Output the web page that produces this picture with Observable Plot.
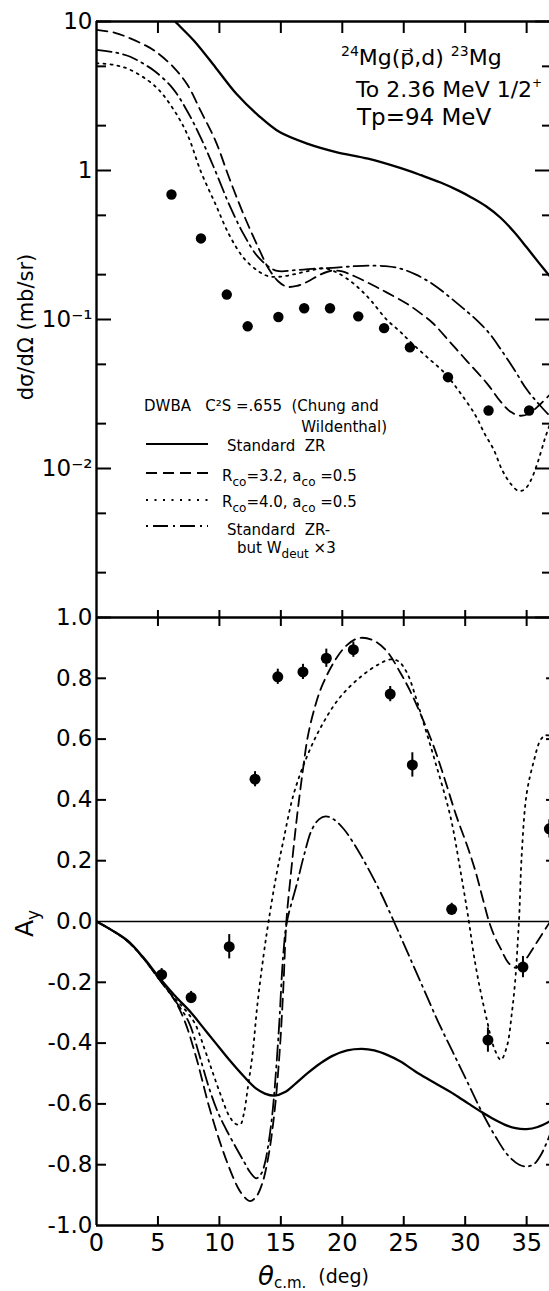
<!DOCTYPE html>
<html>
<head>
<meta charset="utf-8">
<script src="https://cdn.jsdelivr.net/npm/d3@7"></script>
<script src="https://cdn.jsdelivr.net/npm/@observablehq/plot@0.6"></script>
<style>
  html, body { margin: 0; padding: 0; background: #fff; }
  #fig { position: relative; width: 549px; height: 1291px; overflow: hidden; background: #fff; }
  #fig svg { position: absolute; left: 0; overflow: visible; }
</style>
</head>
<body>
<div id="fig"></div>
<script>
// 24Mg(p,d)23Mg to the 2.36 MeV 1/2+ state at Tp = 94 MeV:
// cross section (top, log scale) and analyzing power Ay (bottom).

const FONT = "DejaVu Sans, sans-serif";
const thetaMax = 36.86;                       // angular range visible in the frame (deg)
const xTicks = [5, 10, 15, 20, 25, 30, 35];
const xLabels = [0, 5, 10, 15, 20, 25, 30, 35];

// ---- cross section axis
const sigMajor = [10, 1, 0.1, 0.01, 0.001];
const sigMinor = [5, 2, 0.5, 0.2, 0.05, 0.02, 0.005, 0.002];
const sigLabels = [10, 1, 0.1, 0.01];
const sigLabelText = ["10", "1", "10⁻¹", "10⁻²"];

// ---- analyzing power axis
const ayLabels = [1, 0.8, 0.6, 0.4, 0.2, 0, -0.2, -0.4, -0.6, -0.8, -1];
const ayTicks = [0.8, 0.6, 0.4, 0.2, -0.2, -0.4, -0.6, -0.8];

// ---- measured cross section (mb/sr)
const sigmaTheta = [6.1, 8.5, 10.6, 12.3, 14.8, 16.9, 19.0, 21.3, 23.4, 25.5, 28.6, 31.9, 35.2];
const sigmaValue = [0.69, 0.35, 0.147, 0.090, 0.104, 0.119, 0.119, 0.105, 0.0875, 0.065, 0.041, 0.0245, 0.0245];

// ---- measured analyzing power
const ayTheta = [5.3, 7.7, 10.8, 12.9, 14.75, 16.8, 18.7, 20.9, 23.9, 25.7, 28.9, 31.85, 34.7, 36.85];
const ayValue = [-0.175, -0.25, -0.083, 0.468, 0.805, 0.821, 0.866, 0.894, 0.748, 0.515, 0.04, -0.39, -0.15, 0.305];
const ayError = [0.02, 0.02, 0.04, 0.025, 0.025, 0.025, 0.03, 0.025, 0.025, 0.04, 0.02, 0.04, 0.035, 0.03];

// ---- DWBA cross sections [theta, mb/sr]
const sigStdZR = [[5.2, 12.8], [6.4, 10.0], [7.95, 7.4], [9.7, 4.9], [11.4, 3.26], [13.2, 2.33], [14.9, 1.81],
  [17.2, 1.51], [19.5, 1.33], [22.1, 1.2], [24.7, 1.04], [26.4, 0.93], [28.0, 0.83], [29.5, 0.73], [30.5, 0.66],
  [31.7, 0.575], [32.9, 0.48], [34.0, 0.385], [35.0, 0.305], [36.0, 0.24], [37.0, 0.19]];
const sigRco32 = [[0, 8.8], [1.5, 8.4], [2.75, 7.7], [4.0, 6.9], [4.8, 6.3], [6.2, 5.0], [7.4, 3.76], [8.5, 2.49],
  [9.7, 1.57], [10.8, 0.89], [12.0, 0.50], [13.2, 0.30], [14.0, 0.22], [14.8, 0.18], [15.5, 0.166], [16.3, 0.168],
  [17.2, 0.18], [18.2, 0.2], [19.2, 0.213], [20.0, 0.21], [21.0, 0.195], [22.3, 0.173], [23.6, 0.152], [25.3, 0.127],
  [26.5, 0.108], [27.4, 0.094], [28.8, 0.07], [30.2, 0.052], [31.8, 0.037], [32.9, 0.028], [33.7, 0.024],
  [34.5, 0.0226], [35.2, 0.0234], [36.1, 0.027], [37.0, 0.032]];
const sigRco40 = [[0, 5.25], [1.5, 5.1], [2.75, 4.74], [4.8, 3.66], [6.2, 2.62], [7.4, 1.74], [8.5, 0.98], [9.7, 0.59],
  [10.8, 0.37], [12.0, 0.257], [13.2, 0.21], [14.0, 0.195], [15.0, 0.194], [16.3, 0.203], [17.5, 0.214], [18.6, 0.22],
  [19.5, 0.208], [20.7, 0.18], [21.6, 0.155], [22.4, 0.132], [23.6, 0.1], [24.7, 0.083], [25.6, 0.07], [27.0, 0.055],
  [28.3, 0.044], [29.5, 0.033], [30.8, 0.023], [31.6, 0.017], [32.3, 0.0135], [33.0, 0.0098], [33.7, 0.0079],
  [34.3, 0.0071], [34.8, 0.0072], [35.3, 0.0082], [35.9, 0.011], [36.5, 0.016], [37.0, 0.021]];
const sigWdeut = [[0, 6.45], [1.5, 6.2], [2.75, 5.8], [4.0, 5.1], [4.8, 4.6], [6.2, 3.56], [7.4, 2.49], [8.5, 1.65],
  [9.7, 0.98], [10.8, 0.59], [12.0, 0.37], [13.2, 0.26], [14.6, 0.213], [16.3, 0.215], [18.0, 0.22], [19.5, 0.223],
  [21.0, 0.228], [22.1, 0.23], [23.5, 0.228], [24.7, 0.22], [26.0, 0.2], [27.4, 0.172], [28.8, 0.14], [30.2, 0.112],
  [31.0, 0.098], [32.0, 0.08], [32.9, 0.063], [34.0, 0.046], [35.0, 0.034], [36.0, 0.027], [37.0, 0.022]];

// ---- DWBA analyzing powers [theta, Ay]
const ayStdZR = [[0, 0], [1.3, -0.03], [2.56, -0.064], [3.8, -0.118], [5.1, -0.184], [6.4, -0.245], [7.7, -0.3],
  [8.7, -0.35], [9.7, -0.4], [10.8, -0.455], [12.0, -0.51], [13.0, -0.55], [13.7, -0.566], [14.5, -0.573],
  [15.3, -0.562], [16.2, -0.533], [17.2, -0.498], [18.2, -0.467], [19.2, -0.442], [20.4, -0.424], [21.6, -0.419],
  [22.6, -0.424], [23.6, -0.438], [24.7, -0.46], [26.2, -0.5], [27.7, -0.535], [29.1, -0.568], [30.3, -0.6],
  [31.3, -0.626], [32.3, -0.65], [33.2, -0.668], [34.1, -0.68], [35.0, -0.683], [35.9, -0.676], [37.0, -0.655]];
const ayRco32 = [[0, 0], [1.3, -0.03], [2.56, -0.066], [3.8, -0.12], [5.1, -0.19], [6.3, -0.255], [7.2, -0.33],
  [8.2, -0.46], [9.1, -0.6], [10.0, -0.72], [10.8, -0.81], [11.5, -0.875], [12.0, -0.905], [12.5, -0.92],
  [13.0, -0.905], [13.5, -0.86], [14.0, -0.77], [14.5, -0.62], [14.9, -0.43], [15.2, -0.22], [15.45, 0],
  [15.8, 0.15], [16.3, 0.34], [16.8, 0.5], [17.2, 0.61], [17.8, 0.71], [18.4, 0.78], [19.5, 0.865], [20.4, 0.91],
  [21.3, 0.932], [22.4, 0.927], [23.6, 0.89], [24.7, 0.82], [25.5, 0.76], [26.5, 0.67], [27.4, 0.58], [28.2, 0.485],
  [29.3, 0.345], [30.2, 0.245], [30.8, 0.17], [31.4, 0.08], [31.9, 0.005], [32.4, -0.05], [32.9, -0.09],
  [33.5, -0.135], [34.1, -0.152], [34.6, -0.142], [35.1, -0.115], [35.9, -0.064], [36.6, -0.02], [37.0, 0.005]];
const ayRco40 = [[0, 0], [1.3, -0.03], [2.56, -0.066], [3.8, -0.12], [5.1, -0.19], [6.3, -0.25], [7.1, -0.285],
  [8.0, -0.335], [8.8, -0.42], [9.4, -0.49], [10.1, -0.57], [10.8, -0.64], [11.3, -0.665], [11.7, -0.668],
  [12.0, -0.63], [12.3, -0.55], [12.7, -0.435], [13.1, -0.27], [13.6, -0.11], [14.0, 0], [14.6, 0.145],
  [15.2, 0.265], [16.05, 0.42], [17.2, 0.55], [18.4, 0.65], [19.8, 0.737], [21.5, 0.805], [23.0, 0.847],
  [23.9, 0.862], [24.6, 0.855], [25.3, 0.815], [26.0, 0.735], [26.6, 0.655], [27.6, 0.52], [28.8, 0.345],
  [29.6, 0.17], [30.3, 0.0], [30.7, -0.11], [31.2, -0.22], [31.8, -0.33], [32.3, -0.41], [32.9, -0.455],
  [33.4, -0.41], [33.8, -0.3], [34.1, -0.18], [34.3, -0.05], [34.4, 0.02], [34.6, 0.22], [35.0, 0.42],
  [35.6, 0.53], [36.1, 0.595], [36.5, 0.612], [37.0, 0.61]];
const ayWdeut = [[0, 0], [1.3, -0.03], [2.56, -0.066], [3.8, -0.12], [5.1, -0.19], [6.3, -0.255], [7.5, -0.33],
  [8.3, -0.43], [9.1, -0.54], [9.8, -0.62], [10.5, -0.68], [11.3, -0.74], [12.0, -0.79], [12.5, -0.825],
  [13.0, -0.845], [13.4, -0.83], [13.7, -0.795], [14.25, -0.654], [14.8, -0.38], [15.2, -0.107], [15.5, 0.0],
  [16.3, 0.123], [16.9, 0.22], [17.5, 0.3], [18.1, 0.336], [18.65, 0.346], [19.3, 0.336], [20.1, 0.305],
  [20.8, 0.265], [21.55, 0.215], [23.0, 0.105], [24.2, 0], [25.4, -0.11], [26.6, -0.22], [27.8, -0.33],
  [29.0, -0.43], [30.2, -0.53], [31.4, -0.63], [32.5, -0.71], [33.5, -0.77], [34.4, -0.80], [35.0, -0.806],
  [35.6, -0.798], [36.2, -0.765], [37.0, -0.69]];

// line styles shared by both panels and the key
const DASH = "11,6", DOT = "2,5", DASHDOT = "15,5,2,5";
const curve = (data, dash, width = 1.8) =>
  Plot.line(data, {x: d => d[0], y: d => d[1], curve: "catmull-rom", stroke: "black",
    strokeWidth: width, strokeDasharray: dash, clip: true});

const frameStyle = {background: "transparent", overflow: "visible", fontFamily: FONT, color: "black"};
const sigLabelMap = new Map(sigLabels.map((v, i) => [v, sigLabelText[i]]));

// ---------- top panel: dσ/dΩ
const topPlot = Plot.plot({
  width: 549, height: 630,
  marginLeft: 96, marginRight: 0, marginTop: 21, marginBottom: 13,
  style: frameStyle,
  x: {domain: [0, thetaMax], axis: null},
  y: {type: "log", domain: [0.001, 10], axis: null},
  marks: [
    Plot.ruleX([0], {strokeWidth: 2.4}),
    Plot.ruleY([10], {strokeWidth: 2.4}),
    Plot.ruleY([0.001], {strokeWidth: 2.4}),
    Plot.axisX({anchor: "top", ticks: xTicks, tickSize: 11, dy: 11, fill: "none", strokeWidth: 2, label: null}),
    Plot.axisY({anchor: "left", ticks: sigMajor, tickSize: 15, dx: 15, fill: "none", strokeWidth: 2, label: null}),
    Plot.axisY({anchor: "left", ticks: sigMinor, tickSize: 10, dx: 10, fill: "none", strokeWidth: 2, label: null}),
    Plot.axisY({anchor: "right", ticks: sigMajor, tickSize: 15, dx: -15, fill: "none", strokeWidth: 2, label: null}),
    Plot.axisY({anchor: "right", ticks: sigMinor, tickSize: 8, dx: -8, fill: "none", strokeWidth: 2, label: null}),
    Plot.axisY({anchor: "left", ticks: sigLabels, tickSize: 0, tickPadding: 4, fontSize: 23,
      tickFormat: d => sigLabelMap.get(d), label: null}),
    curve(sigStdZR, null, 2.3),
    curve(sigRco32, DASH),
    curve(sigRco40, DOT),
    curve(sigWdeut, DASHDOT),
    Plot.dot(d3.range(sigmaTheta.length), {x: i => sigmaTheta[i], y: i => sigmaValue[i], r: 5.2, fill: "black", stroke: "none"})
  ]
});
topPlot.style.top = "0px";
fig.append(topPlot);

// ---------- bottom panel: Ay
const botPlot = Plot.plot({
  width: 549, height: 691,
  marginLeft: 96, marginRight: 0, marginTop: 17, marginBottom: 66,
  style: frameStyle,
  x: {domain: [0, thetaMax], axis: null},
  y: {domain: [-1, 1], axis: null},
  marks: [
    Plot.ruleX([0], {strokeWidth: 2.4}),
    Plot.ruleY([-1], {strokeWidth: 2.4}),
    Plot.ruleY([0], {strokeWidth: 1.4}),
    Plot.axisX({anchor: "top", ticks: xTicks, tickSize: 8, fill: "none", strokeWidth: 2, label: null}),
    Plot.axisX({anchor: "top", ticks: xTicks, tickSize: 8, dy: 8, fill: "none", strokeWidth: 2, label: null}),
    Plot.axisX({anchor: "bottom", ticks: xTicks, tickSize: 9, dy: -9, fill: "none", strokeWidth: 2, label: null}),
    Plot.axisX({anchor: "bottom", ticks: xLabels, tickSize: 0, tickPadding: 8, fontSize: 24,
      tickFormat: d => String(d), label: null}),
    Plot.axisY({anchor: "left", ticks: ayTicks, tickSize: 10, dx: 10, fill: "none", strokeWidth: 2, label: null}),
    Plot.axisY({anchor: "right", ticks: ayTicks, tickSize: 4, dx: -4, fill: "none", strokeWidth: 2, label: null}),
    Plot.axisY({anchor: "left", ticks: ayLabels, tickSize: 0, tickPadding: 4, fontSize: 23,
      tickFormat: d => d.toFixed(1), label: null}),
    curve(ayStdZR, null, 2.3),
    curve(ayRco32, DASH),
    curve(ayRco40, DOT),
    curve(ayWdeut, DASHDOT),
    Plot.ruleX(d3.range(ayTheta.length), {x: i => ayTheta[i], y1: i => ayValue[i] - ayError[i],
      y2: i => ayValue[i] + ayError[i], strokeWidth: 2}),
    Plot.dot(d3.range(ayTheta.length), {x: i => ayTheta[i], y: i => ayValue[i], r: 5.5, fill: "black", stroke: "none"})
  ]
});
botPlot.style.top = "600px";
fig.append(botPlot);

// ---------- annotations with sub/superscripts
function rich(svg, x, y, parts, {size = 15, anchor = "start", rotate = 0} = {}) {
  const t = d3.select(svg).append("text")
    .attr("transform", `translate(${x},${y})` + (rotate ? ` rotate(${rotate})` : ""))
    .attr("font-family", FONT).attr("font-size", size)
    .attr("text-anchor", anchor).attr("fill", "black")
    .style("white-space", "pre");
  for (const p of parts) {
    const [str, opt = {}] = typeof p === "string" ? [p] : p;
    const s = t.append("tspan").text(str);
    if (opt.dx) s.attr("dx", opt.dx);
    if (opt.dy) s.attr("dy", opt.dy);
    if (opt.size) s.attr("font-size", opt.size);
    if (opt.italic) s.attr("font-style", "italic");
  }
}
function swatch(svg, y, dash) {
  d3.select(svg).append("line")
    .attr("x1", 146).attr("x2", 208).attr("y1", y).attr("y2", y)
    .attr("stroke", "black").attr("stroke-width", 1.8)
    .attr("stroke-dasharray", dash);
}

// reaction label
rich(topPlot, 341, 65, [["24", {dy: -9, size: 14}], ["Mg(p\u20D7,d) ", {dy: 9}], ["23", {dy: -9, size: 14}], ["Mg", {dy: 9}]], {size: 22});
rich(topPlot, 356, 97, ["To 2.36 MeV 1/2", ["+", {dy: -10, size: 12}]], {size: 22});
rich(topPlot, 357, 125, ["Tp=94 MeV"], {size: 23});

// key
rich(topPlot, 144, 411, ["DWBA   C²S =.655  (Chung and"]);
rich(topPlot, 387, 432, ["Wildenthal)"], {anchor: "end"});
swatch(topPlot, 444, null);
rich(topPlot, 227, 451, ["Standard  ZR"]);
swatch(topPlot, 473, DASH);
rich(topPlot, 222, 481, ["R", ["co", {dy: 5, size: 12}], ["=3.2, a", {dy: -5}], ["co", {dy: 5, size: 12}], [" =0.5", {dy: -5}]]);
swatch(topPlot, 500, "2,6.5");
rich(topPlot, 222, 507, ["R", ["co", {dy: 5, size: 12}], ["=4.0, a", {dy: -5}], ["co", {dy: 5, size: 12}], [" =0.5", {dy: -5}]]);
swatch(topPlot, 526, "2,5,15,5");
rich(topPlot, 227, 535, ["Standard  ZR-"]);
rich(topPlot, 237, 553, ["but W", ["deut", {dy: 5, size: 12}], [" ×3", {dy: -5}]]);

// axis titles
rich(topPlot, 33, 327, ["dσ/dΩ (mb/sr)"], {size: 21, anchor: "middle", rotate: -90});
rich(botPlot, 33, 337, ["A", ["y", {dy: 6, size: 17}]], {size: 25, rotate: -90});
rich(botPlot, 258, 685, [["θ", {italic: true, size: 26}], ["c.m.", {dy: 3, size: 15}], ["(deg)", {dx: 12, dy: -5, size: 19}]]);
</script>
</body>
</html>
